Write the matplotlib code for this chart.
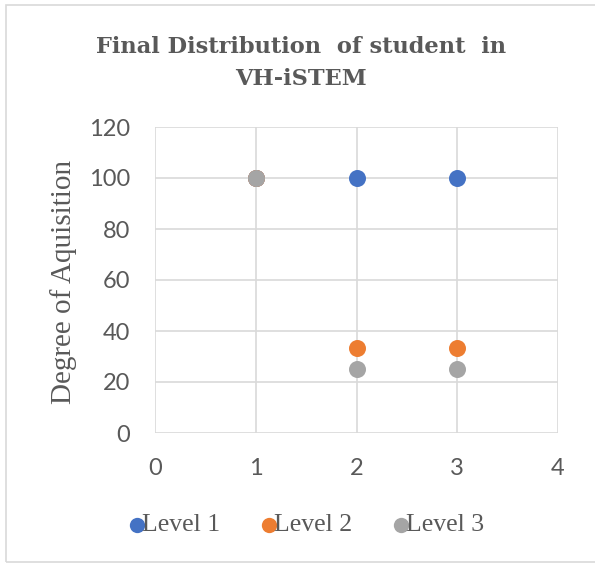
import matplotlib
matplotlib.use("Agg")
import matplotlib.pyplot as plt
from matplotlib.patches import Rectangle

# Data
x_vals = [1, 2, 3]
level1 = [100, 100, 100]
level2 = [100, 33.33, 33.33]
level3 = [100, 25, 25]
series_names = ["Level 1", "Level 2", "Level 3"]
colors = ["#4472C4", "#ED7D31", "#A5A5A5"]
x_ticks = [0, 1, 2, 3, 4]
y_ticks = [0, 20, 40, 60, 80, 100, 120]

W, H = 595, 564
TEXT = "#595959"
fig = plt.figure(figsize=(W / 100, H / 100), dpi=100)
fig.patch.set_facecolor("white")

# Chart border
fig.patches.append(Rectangle((6 / W, 1 - 562 / H), 600 / W, (562 - 5) / H,
                             transform=fig.transFigure, fill=False,
                             edgecolor="#d9d9d9", linewidth=1.2))

ax = fig.add_axes([155 / W, 1 - 433 / H, (558 - 155) / W, (433 - 127) / H])

for vals, name, c in zip([level1, level2, level3], series_names, colors):
    ax.scatter(x_vals, vals, s=150, color=c, label=name, zorder=3, linewidths=0)

ax.set_xlim(0, 4)
ax.set_ylim(0, 120)
ax.set_xticks(x_ticks)
ax.set_yticks(y_ticks)
ax.grid(True, color="#d9d9d9", linewidth=1.2)
ax.set_axisbelow(True)
for sp in ax.spines.values():
    sp.set_visible(False)
ax.tick_params(length=0, labelsize=17, labelcolor=TEXT, pad=18)
for lab in ax.get_xticklabels() + ax.get_yticklabels():
    lab.set_family("Lato")

ax.set_ylabel("Degree of Aquisition", family="Liberation Serif", fontsize=21,
              color=TEXT)
ax.yaxis.set_label_coords(-0.194, 0.495)

fig.text(301 / W, 1 - 53 / H, "Final Distribution  of student  in",
         ha="center", va="baseline", family="DejaVu Serif", fontsize=16.2,
         fontweight="bold", color=TEXT)
fig.text(301 / W, 1 - 85 / H, "VH-iSTEM",
         ha="center", va="baseline", family="DejaVu Serif", fontsize=16.2,
         fontweight="bold", color=TEXT)

leg = fig.legend(loc="center", bbox_to_anchor=(303 / W, 1 - 525 / H), ncol=3,
                 frameon=False, handletextpad=-0.4, columnspacing=1.3,
                 markerscale=0.9, handlelength=1.2,
                 prop={"family": "Liberation Serif", "size": 18.5})
for t in leg.get_texts():
    t.set_color(TEXT)

fig.savefig("out.png", dpi=100)
